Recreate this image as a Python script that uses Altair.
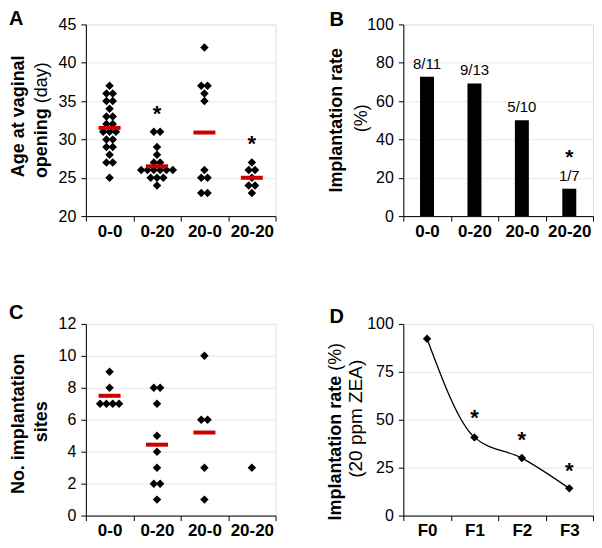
import altair as alt
import pandas as pd

FONT = "Liberation Sans"
RED = "#cc0000"
W, H = 190, 192

groups = ["0-0", "0-20", "20-0", "20-20"]

# Panel A: age at vaginal opening (day)
age_00 = [37, 36, 36, 35, 35, 34, 33, 33, 32, 32, 31, 31, 31, 30, 30, 29, 29, 28, 27, 27, 25]
age_020 = [31, 31, 29, 28, 27, 27, 26, 26, 26, 26, 26, 26, 25, 25, 25, 24]
age_200 = [42, 37, 37, 36, 35, 26, 25, 25, 23, 23]
age_2020 = [27, 26, 26, 25, 24, 24, 23]
age_means = [31.5, 26.5, 30.9, 25.0]
age_star_groups = ["0-20", "20-20"]
age_star_y = [34.0, 30.1]

# Panel B: implantation rate (%)
impl_rate = [72.7, 69.2, 50.0, 14.3]
impl_labels = ["8/11", "9/13", "5/10", "1/7"]
impl_star_groups = ["20-20"]
impl_star_y = [32.5]

# Panel C: number of implantation sites
sites_00 = [9, 8, 7, 7, 7, 7]
sites_020 = [8, 8, 7, 5, 4, 3, 2, 2, 1]
sites_200 = [10, 6, 6, 3, 1]
sites_2020 = [3]
sites_mean_groups = ["0-0", "0-20", "20-0"]
sites_means = [7.5, 4.44, 5.2]

# Panel D: implantation rate across generations (20 ppm ZEA)
gens = ["F0", "F1", "F2", "F3"]
gen_rate = [92.3, 40.8, 30.0, 14.2]
gen_star_groups = ["F1", "F2", "F3"]
gen_star_y = [53.6, 42.0, 26.0]

OFF_DOMAIN = [x / 2 for x in range(-7, 8)]


def swarm(pairs):
    rows = []
    for g, vals in pairs:
        counts = {}
        for v in vals:
            counts[v] = counts.get(v, 0) + 1
        seen = {}
        for v in vals:
            k = seen.get(v, 0)
            seen[v] = k + 1
            rows.append({"group": g, "value": v, "off": k - (counts[v] - 1) / 2})
    return pd.DataFrame(rows)


def xaxis():
    return alt.Axis(title=None, labelAngle=0, labelFontSize=17, labelFontWeight="bold",
                    labelFont=FONT, labelColor="black", tickBand="extent", tickSize=5,
                    labelPadding=2, grid=False, domainColor="black", tickColor="black")


def yaxis(values):
    return alt.Axis(title=None, values=values, tickSize=5, labelPadding=5, labelFontSize=16,
                    labelFont=FONT, labelColor="black", grid=True, gridColor="#e8e8e8",
                    domainColor="black", tickColor="black")


def text_layer(txt, x, y, size, weight="bold", angle=270, align="center", baseline="alphabetic"):
    return alt.Chart(pd.DataFrame({"t": [txt]})).mark_text(
        angle=angle, fontSize=size, fontWeight=weight, align=align, baseline=baseline,
        font=FONT, color="black"
    ).encode(x=alt.value(x), y=alt.value(y), text="t:N")


def letter(txt, x, y):
    return text_layer(txt, x, y, 20, angle=0, align="left", baseline="top")


def xs(dom):
    return alt.Scale(domain=dom, paddingInner=0, paddingOuter=0)


PT_SIZE = 72

# ---------- Panel A ----------
dfA = swarm(list(zip(groups, [age_00, age_020, age_200, age_2020])))
dfAm = pd.DataFrame({"group": groups, "value": age_means})
dfAs = pd.DataFrame({"group": age_star_groups, "value": age_star_y, "t": ["*"] * len(age_star_y)})
yA = alt.Y("value:Q", scale=alt.Scale(domain=[20, 45], nice=False, zero=False),
           axis=yaxis([20, 25, 30, 35, 40, 45]))
xA = alt.X("group:N", scale=xs(groups), axis=xaxis())

A_pts = alt.Chart(dfA).mark_point(shape="diamond", filled=True, size=PT_SIZE, color="black", opacity=1).encode(
    x=xA, xOffset=alt.XOffset("off:O", scale=alt.Scale(domain=OFF_DOMAIN)), y=yA)
A_mean = alt.Chart(dfAm).mark_tick(color=RED, thickness=4, size=22, opacity=1).encode(x=xA, y=yA)
A_star = alt.Chart(dfAs).mark_text(fontSize=22, fontWeight="bold", font=FONT, baseline="alphabetic",
                                   dy=12, color="black").encode(x=xA, y=yA, text="t:N")
A = alt.layer(
    A_pts, A_mean, A_star,
    text_layer("Age at vaginal", -62, 92, 18),
    text_layer("opening", -39, 84, 18, align="right"),
    text_layer("(day)", -39, 79, 18, weight="normal", align="left"),
    letter("A", -77, -15),
).properties(width=W, height=H)

# ---------- Panel B ----------
dfB = pd.DataFrame({"group": groups, "value": impl_rate, "t": impl_labels})
dfBs = pd.DataFrame({"group": impl_star_groups, "value": impl_star_y, "t": ["*"] * len(impl_star_y)})
yB = alt.Y("value:Q", scale=alt.Scale(domain=[0, 100], nice=False), axis=yaxis([0, 20, 40, 60, 80, 100]))
xB = alt.X("group:N", scale=xs(groups), axis=xaxis())
B_bar = alt.Chart(dfB).mark_bar(size=14, color="black").encode(x=xB, y=yB)
B_lab = alt.Chart(dfB).mark_text(fontSize=15, font=FONT, baseline="alphabetic", dy=-8, color="black").encode(
    x=xB, y=yB, text="t:N")
B_star = alt.Chart(dfBs).mark_text(fontSize=21, fontWeight="bold", font=FONT, baseline="alphabetic",
                                   dy=10, color="black").encode(x=xB, y=yB, text="t:N")
B = alt.layer(
    B_bar, B_lab, B_star,
    text_layer("Implantation rate", -61, 96, 18),
    text_layer("(%)", -36, 94, 18, weight="normal"),
    letter("B", -74, -14),
).properties(width=W, height=H)

# ---------- Panel C ----------
dfC = swarm(list(zip(groups, [sites_00, sites_020, sites_200, sites_2020])))
dfCm = pd.DataFrame({"group": sites_mean_groups, "value": sites_means})
yC = alt.Y("value:Q", scale=alt.Scale(domain=[0, 12], nice=False), axis=yaxis([0, 2, 4, 6, 8, 10, 12]))
xC = alt.X("group:N", scale=xs(groups), axis=xaxis())
C_pts = alt.Chart(dfC).mark_point(shape="diamond", filled=True, size=PT_SIZE, color="black", opacity=1).encode(
    x=xC, xOffset=alt.XOffset("off:O", scale=alt.Scale(domain=OFF_DOMAIN)), y=yC)
C_mean = alt.Chart(dfCm).mark_tick(color=RED, thickness=4, size=22, opacity=1).encode(x=xC, y=yC)
C = alt.layer(
    C_pts, C_mean,
    text_layer("No. implantation", -62, 100, 18),
    text_layer("sites", -39, 98, 18),
    letter("C", -77, -21),
).properties(width=W, height=H)

# ---------- Panel D ----------
dfD = pd.DataFrame({"gen": gens, "value": gen_rate})
dfDs = pd.DataFrame({"gen": gen_star_groups, "value": gen_star_y, "t": ["*"] * len(gen_star_y)})
yD = alt.Y("value:Q", scale=alt.Scale(domain=[0, 100], nice=False), axis=yaxis([0, 25, 50, 75, 100]))
xD = alt.X("gen:N", scale=xs(gens), axis=xaxis())
D_line = alt.Chart(dfD).mark_line(interpolate="monotone", color="black", strokeWidth=1.3).encode(x=xD, y=yD)
D_pts = alt.Chart(dfD).mark_point(shape="diamond", filled=True, size=PT_SIZE, color="black", opacity=1).encode(x=xD, y=yD)
D_star = alt.Chart(dfDs).mark_text(fontSize=22, fontWeight="bold", font=FONT, baseline="alphabetic",
                                   dy=12, color="black").encode(x=xD, y=yD, text="t:N")
D = alt.layer(
    D_line, D_pts, D_star,
    text_layer("Implantation rate", -62, 52, 18, align="right"),
    text_layer("(%)", -62, 47, 18, weight="normal", align="left"),
    text_layer("(20 ppm ZEA)", -41, 95, 19, weight="normal"),
    letter("D", -74, -17),
).properties(width=W, height=H)

chart = alt.concat(
    A, B, C, D, columns=2, spacing={"row": 108, "column": 128}, bounds="flush"
).properties(padding=0).configure_view(stroke="#8c8c8c", strokeWidth=1).configure(font=FONT)

chart.save("out.html", embed_options={"renderer": "svg", "actions": False})
